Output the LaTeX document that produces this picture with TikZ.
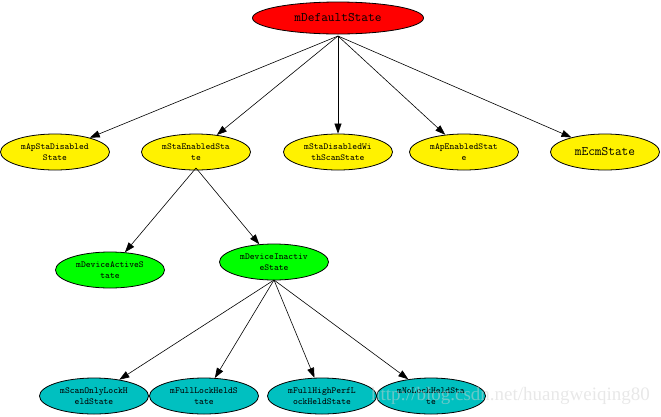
\documentclass[tikz,border=0pt]{standalone}
\usepackage{fontspec}
\newfontfamily\wmfont{Liberation Serif}
\usetikzlibrary{shapes.geometric,arrows.meta}
\definecolor{teal1}{RGB}{0,192,192}
\tikzset{
  st/.style={ellipse,draw=black,line width=0.8pt,inner sep=0pt,minimum width=109pt,minimum height=36pt,
    align=center,font=\ttfamily\fontsize{9.2}{11.5}\selectfont,text=black},
  yel/.style={st,fill=yellow},
  grn/.style={st,fill=green},
  cyn/.style={st,fill=teal1},
  edge/.style={draw=black,line width=0.6pt,-{Triangle[length=10pt,width=7pt]}},
}
\begin{document}
\begin{tikzpicture}[x=1pt,y=-1pt]
\useasboundingbox (0,0) rectangle (661,416);
\node[st,fill=red,minimum width=171pt,minimum height=32pt,font=\ttfamily\fontsize{13}{14}\selectfont] (d) at (338,18) {mDefaultState};
\node[yel] (a1) at (55,152) {mApStaDisabled\\State};
\node[yel] (a2) at (196,152) {mStaEnabledSta\\te};
\node[yel] (a3) at (338,152) {mStaDisabledWi\\thScanState};
\node[yel] (a4) at (464,152) {mApEnabledStat\\e};
\node[yel,font=\ttfamily\fontsize{13}{14}\selectfont] (a5) at (605,152) {mEcmState};
\node[grn] (b1) at (110,270) {mDeviceActiveS\\tate};
\node[grn] (b2) at (274,262) {mDeviceInactiv\\eState};
\node[cyn] (c1) at (94,396) {mScanOnlyLockH\\eldState};
\node[cyn] (c2) at (204,396) {mFullLockHeldS\\tate};
\node[cyn] (c3) at (322,396) {mFullHighPerfL\\ockHeldState};
\node[cyn] (c4) at (431,396) {mNoLockHeldSta\\te};
\coordinate (ds) at (338,36);
\coordinate (a2s) at (196,168);
\coordinate (b2s) at (274,280);
\foreach \t in {a1,a2,a3,a4,a5} \draw[edge] (ds) -- (\t);
\foreach \t in {b1,b2} \draw[edge] (a2s) -- (\t);
\foreach \t in {c1,c2,c3,c4} \draw[edge] (b2s) -- (\t);
\node[anchor=east,text=black!18,opacity=0.5,font=\wmfont\fontsize{19}{20}\selectfont,inner sep=0pt] (wm) at (650,396) {http://blog.csdn.net/huangweiqing80};
\end{tikzpicture}
\end{document}
